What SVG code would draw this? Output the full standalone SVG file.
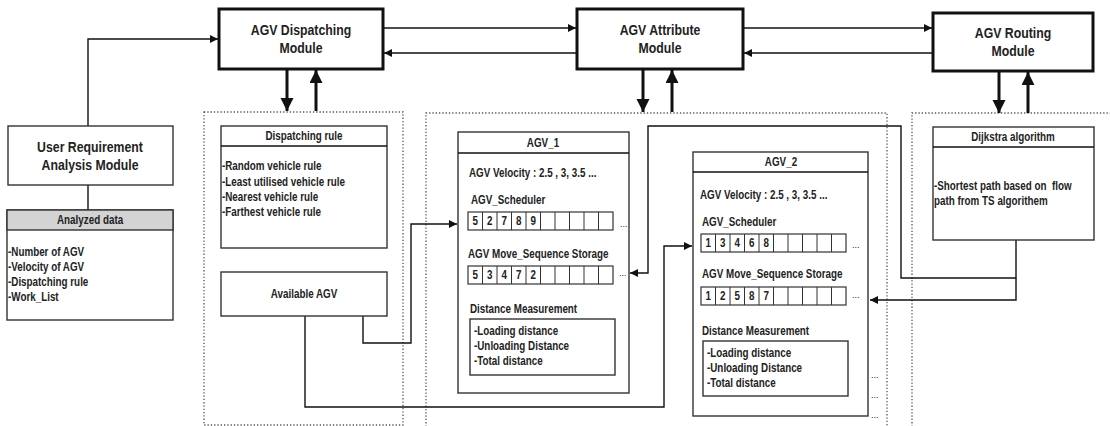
<svg xmlns="http://www.w3.org/2000/svg" width="1110" height="426" viewBox="0 0 1110 426">
  <defs>
    <marker id="arr" markerUnits="userSpaceOnUse" markerWidth="9" markerHeight="8" refX="8" refY="4" orient="auto">
      <path d="M0,0 L8,4 L0,8 z" fill="#111"/>
    </marker>
    <marker id="arrBig" markerUnits="userSpaceOnUse" markerWidth="13" markerHeight="14" refX="13" refY="6.5" orient="auto">
      <path d="M0,0 L13,6.5 L0,13 z" fill="#111"/>
    </marker>
    <!-- ten-slot storage row -->
    <g id="slots">
      <rect x="0" y="0" width="145" height="18" fill="#fff" stroke="#333" stroke-width="1.2"/>
      <path d="M14.5,0 v18 M29,0 v18 M43.5,0 v18 M58,0 v18 M72.5,0 v18 M87,0 v18 M101.5,0 v18 M116,0 v18 M130.5,0 v18" stroke="#333" stroke-width="1"/>
    </g>
  </defs>
  <style>
    text { font-family: "Liberation Sans Narrow", "Liberation Sans", Arial, sans-serif; font-weight: bold; fill: #222;
           transform-box: fill-box; transform-origin: 0 0; transform: scaleX(0.82); }
    .mod { fill: #fff; stroke: #111; stroke-width: 3; }
    .box { fill: #fff; stroke: #333; stroke-width: 1.4; }
    .hdr { fill: #d3d3d3; stroke: #333; stroke-width: 1.4; }
    .dot { fill: none; stroke: #555; stroke-width: 1.3; stroke-dasharray: 1.3 2; }
    .ln { fill: none; stroke: #111; stroke-width: 1.4; }
    .thick { fill: none; stroke: #111; stroke-width: 3; }
    .t14 { font-size: 15px; text-anchor: middle; transform-origin: center; }
    .t12 { font-size: 12px; }
    .mid { text-anchor: middle; transform-origin: center; }
    .cell { font-size: 12px; text-anchor: middle; transform-origin: center; }
    .ell { font-size: 9px; font-weight: normal; transform: none; }
    .pre { white-space: pre; }
  </style>

  <rect width="1110" height="426" fill="#fff"/>

  <!-- dotted grouping frames -->
  <g id="frames">
    <rect class="dot" x="204" y="112" width="199" height="313"/>
    <path class="dot" d="M426,430 V113 H887 V430"/>
    <path class="dot" d="M912,430 V113 H1115"/>
  </g>

  <!-- connectors -->
  <g id="connectors">
    <!-- user requirement to dispatching -->
    <path class="ln" d="M88,126 V39 H218" marker-end="url(#arr)"/>
    <!-- between modules -->
    <path class="ln" d="M384,28 H576" marker-end="url(#arr)"/>
    <path class="ln" d="M576,53 H384" marker-end="url(#arr)"/>
    <path class="ln" d="M744,28 H932" marker-end="url(#arr)"/>
    <path class="ln" d="M932,53 H744" marker-end="url(#arr)"/>
    <!-- module to frame thick arrows -->
    <path class="thick" d="M287,70 V111" marker-end="url(#arrBig)"/>
    <path class="thick" d="M316,111 V70" marker-end="url(#arrBig)"/>
    <path class="thick" d="M643,70 V112" marker-end="url(#arrBig)"/>
    <path class="thick" d="M672,112 V70" marker-end="url(#arrBig)"/>
    <path class="thick" d="M999,72 V113" marker-end="url(#arrBig)"/>
    <path class="thick" d="M1028,113 V72" marker-end="url(#arrBig)"/>
    <!-- user requirement to analyzed data -->
    <path class="ln" d="M88,185 V210"/>
    <!-- available AGV to AGV_1 / AGV_2 -->
    <path class="ln" d="M363,316 V343 H411 V224 H457" marker-end="url(#arr)"/>
    <path class="ln" d="M305,316 V407 H664 V246 H692" marker-end="url(#arr)"/>
    <!-- dijkstra to move sequence storages -->
    <path class="ln" d="M1016,240 V278 H901 V126 H648 V273 H630" marker-end="url(#arr)"/>
    <path class="ln" d="M1016,278 V300 H870" marker-end="url(#arr)"/>
  </g>

  <!-- top modules -->
  <g id="dispatching-module">
    <rect class="mod" x="219" y="9" width="164" height="60"/>
    <text class="t14" x="301" y="35">AGV Dispatching</text>
    <text class="t14" x="301" y="53">Module</text>
  </g>
  <g id="attribute-module">
    <rect class="mod" x="577" y="9" width="166" height="60"/>
    <text class="t14" x="660" y="35">AGV Attribute</text>
    <text class="t14" x="660" y="53">Module</text>
  </g>
  <g id="routing-module">
    <rect class="mod" x="933" y="13" width="160" height="58"/>
    <text class="t14" x="1013" y="38">AGV Routing</text>
    <text class="t14" x="1013" y="56">Module</text>
  </g>

  <!-- user requirement -->
  <g id="user-requirement">
    <rect class="box" x="8" y="126" width="165" height="59"/>
    <text class="t14" x="90" y="152">User Requirement</text>
    <text class="t14" x="90" y="170">Analysis Module</text>
  </g>
  <g id="analyzed-data">
    <rect class="box" x="7" y="210" width="166" height="110"/>
    <rect class="hdr" x="7" y="210" width="166" height="20"/>
    <text class="t12 mid" x="90" y="224">Analyzed data</text>
    <text class="t12" x="8" y="256">-Number of AGV</text>
    <text class="t12" x="8" y="271">-Velocity of AGV</text>
    <text class="t12" x="8" y="286">-Dispatching rule</text>
    <text class="t12" x="8" y="301">-Work_List</text>
  </g>

  <!-- dispatching group -->
  <g id="dispatching-rule">
    <rect class="box" x="221" y="126" width="166" height="122"/>
    <line class="ln" x1="221" y1="146" x2="387" y2="146"/>
    <text class="t12 mid" x="304" y="140">Dispatching rule</text>
    <text class="t12" x="222" y="170">-Random vehicle rule</text>
    <text class="t12" x="222" y="186">-Least utilised vehicle rule</text>
    <text class="t12" x="222" y="201">-Nearest vehicle rule</text>
    <text class="t12" x="222" y="216">-Farthest vehicle rule</text>
  </g>
  <g id="available-agv">
    <rect class="box" x="221" y="272" width="166" height="44"/>
    <text class="t12 mid" x="304" y="298">Available AGV</text>
  </g>

  <!-- AGV_1 -->
  <g id="agv-1">
    <rect class="box" x="458" y="132" width="171" height="261"/>
    <line class="ln" x1="458" y1="153" x2="629" y2="153"/>
    <text class="t12 mid" x="543" y="147">AGV_1</text>
    <text class="t12" x="469" y="177">AGV Velocity : 2.5 , 3, 3.5 ...</text>
    <text class="t12" x="471" y="204">AGV_Scheduler</text>
    <use href="#slots" x="468" y="212"/>
    <text class="cell" x="475.25" y="225">5</text>
    <text class="cell" x="489.75" y="225">2</text>
    <text class="cell" x="504.25" y="225">7</text>
    <text class="cell" x="518.75" y="225">8</text>
    <text class="cell" x="533.25" y="225">9</text>
    <text class="ell" x="620" y="227">...</text>
    <text class="t12" x="468" y="258">AGV Move_Sequence Storage</text>
    <use href="#slots" x="468" y="266"/>
    <text class="cell" x="475.25" y="279">5</text>
    <text class="cell" x="489.75" y="279">3</text>
    <text class="cell" x="504.25" y="279">4</text>
    <text class="cell" x="518.75" y="279">7</text>
    <text class="cell" x="533.25" y="279">2</text>
    <text class="ell" x="619" y="276">...</text>
    <text class="t12" x="470" y="313">Distance Measurement</text>
    <rect class="box" x="470" y="319" width="145" height="56"/>
    <text class="t12" x="474" y="335">-Loading distance</text>
    <text class="t12" x="474" y="350">-Unloading Distance</text>
    <text class="t12" x="474" y="365">-Total distance</text>
  </g>

  <!-- AGV_2 -->
  <g id="agv-2">
    <rect class="box" x="693" y="152" width="175" height="264"/>
    <line class="ln" x1="693" y1="172" x2="868" y2="172"/>
    <text class="t12 mid" x="781" y="166">AGV_2</text>
    <text class="t12" x="700" y="199">AGV Velocity : 2.5 , 3, 3.5 ...</text>
    <text class="t12" x="702" y="226">AGV_Scheduler</text>
    <use href="#slots" x="701" y="234"/>
    <text class="cell" x="708.25" y="247">1</text>
    <text class="cell" x="722.75" y="247">3</text>
    <text class="cell" x="737.25" y="247">4</text>
    <text class="cell" x="751.75" y="247">6</text>
    <text class="cell" x="766.25" y="247">8</text>
    <text class="ell" x="852" y="248">...</text>
    <text class="t12" x="702" y="278">AGV Move_Sequence Storage</text>
    <use href="#slots" x="701" y="287"/>
    <text class="cell" x="708.25" y="300">1</text>
    <text class="cell" x="722.75" y="300">2</text>
    <text class="cell" x="737.25" y="300">5</text>
    <text class="cell" x="751.75" y="300">8</text>
    <text class="cell" x="766.25" y="300">7</text>
    <text class="ell" x="852" y="298">...</text>
    <text class="t12" x="702" y="335">Distance Measurement</text>
    <rect class="box" x="703" y="341" width="145" height="55"/>
    <text class="t12" x="707" y="357">-Loading distance</text>
    <text class="t12" x="707" y="372">-Unloading Distance</text>
    <text class="t12" x="707" y="387">-Total distance</text>
    <text class="ell" x="871" y="378">...</text>
    <text class="ell" x="871" y="398">...</text>
    <text class="ell" x="871" y="418">...</text>
  </g>

  <!-- routing group -->
  <g id="dijkstra">
    <rect class="box" x="933" y="127" width="161" height="113"/>
    <line class="ln" x1="933" y1="147" x2="1094" y2="147"/>
    <text class="t12 mid" x="1013" y="141">Dijkstra algorithm</text>
    <text class="t12 pre" x="934" y="190">-Shortest path based on  flow</text>
    <text class="t12" x="934" y="205">path from TS algorithem</text>
  </g>
</svg>
